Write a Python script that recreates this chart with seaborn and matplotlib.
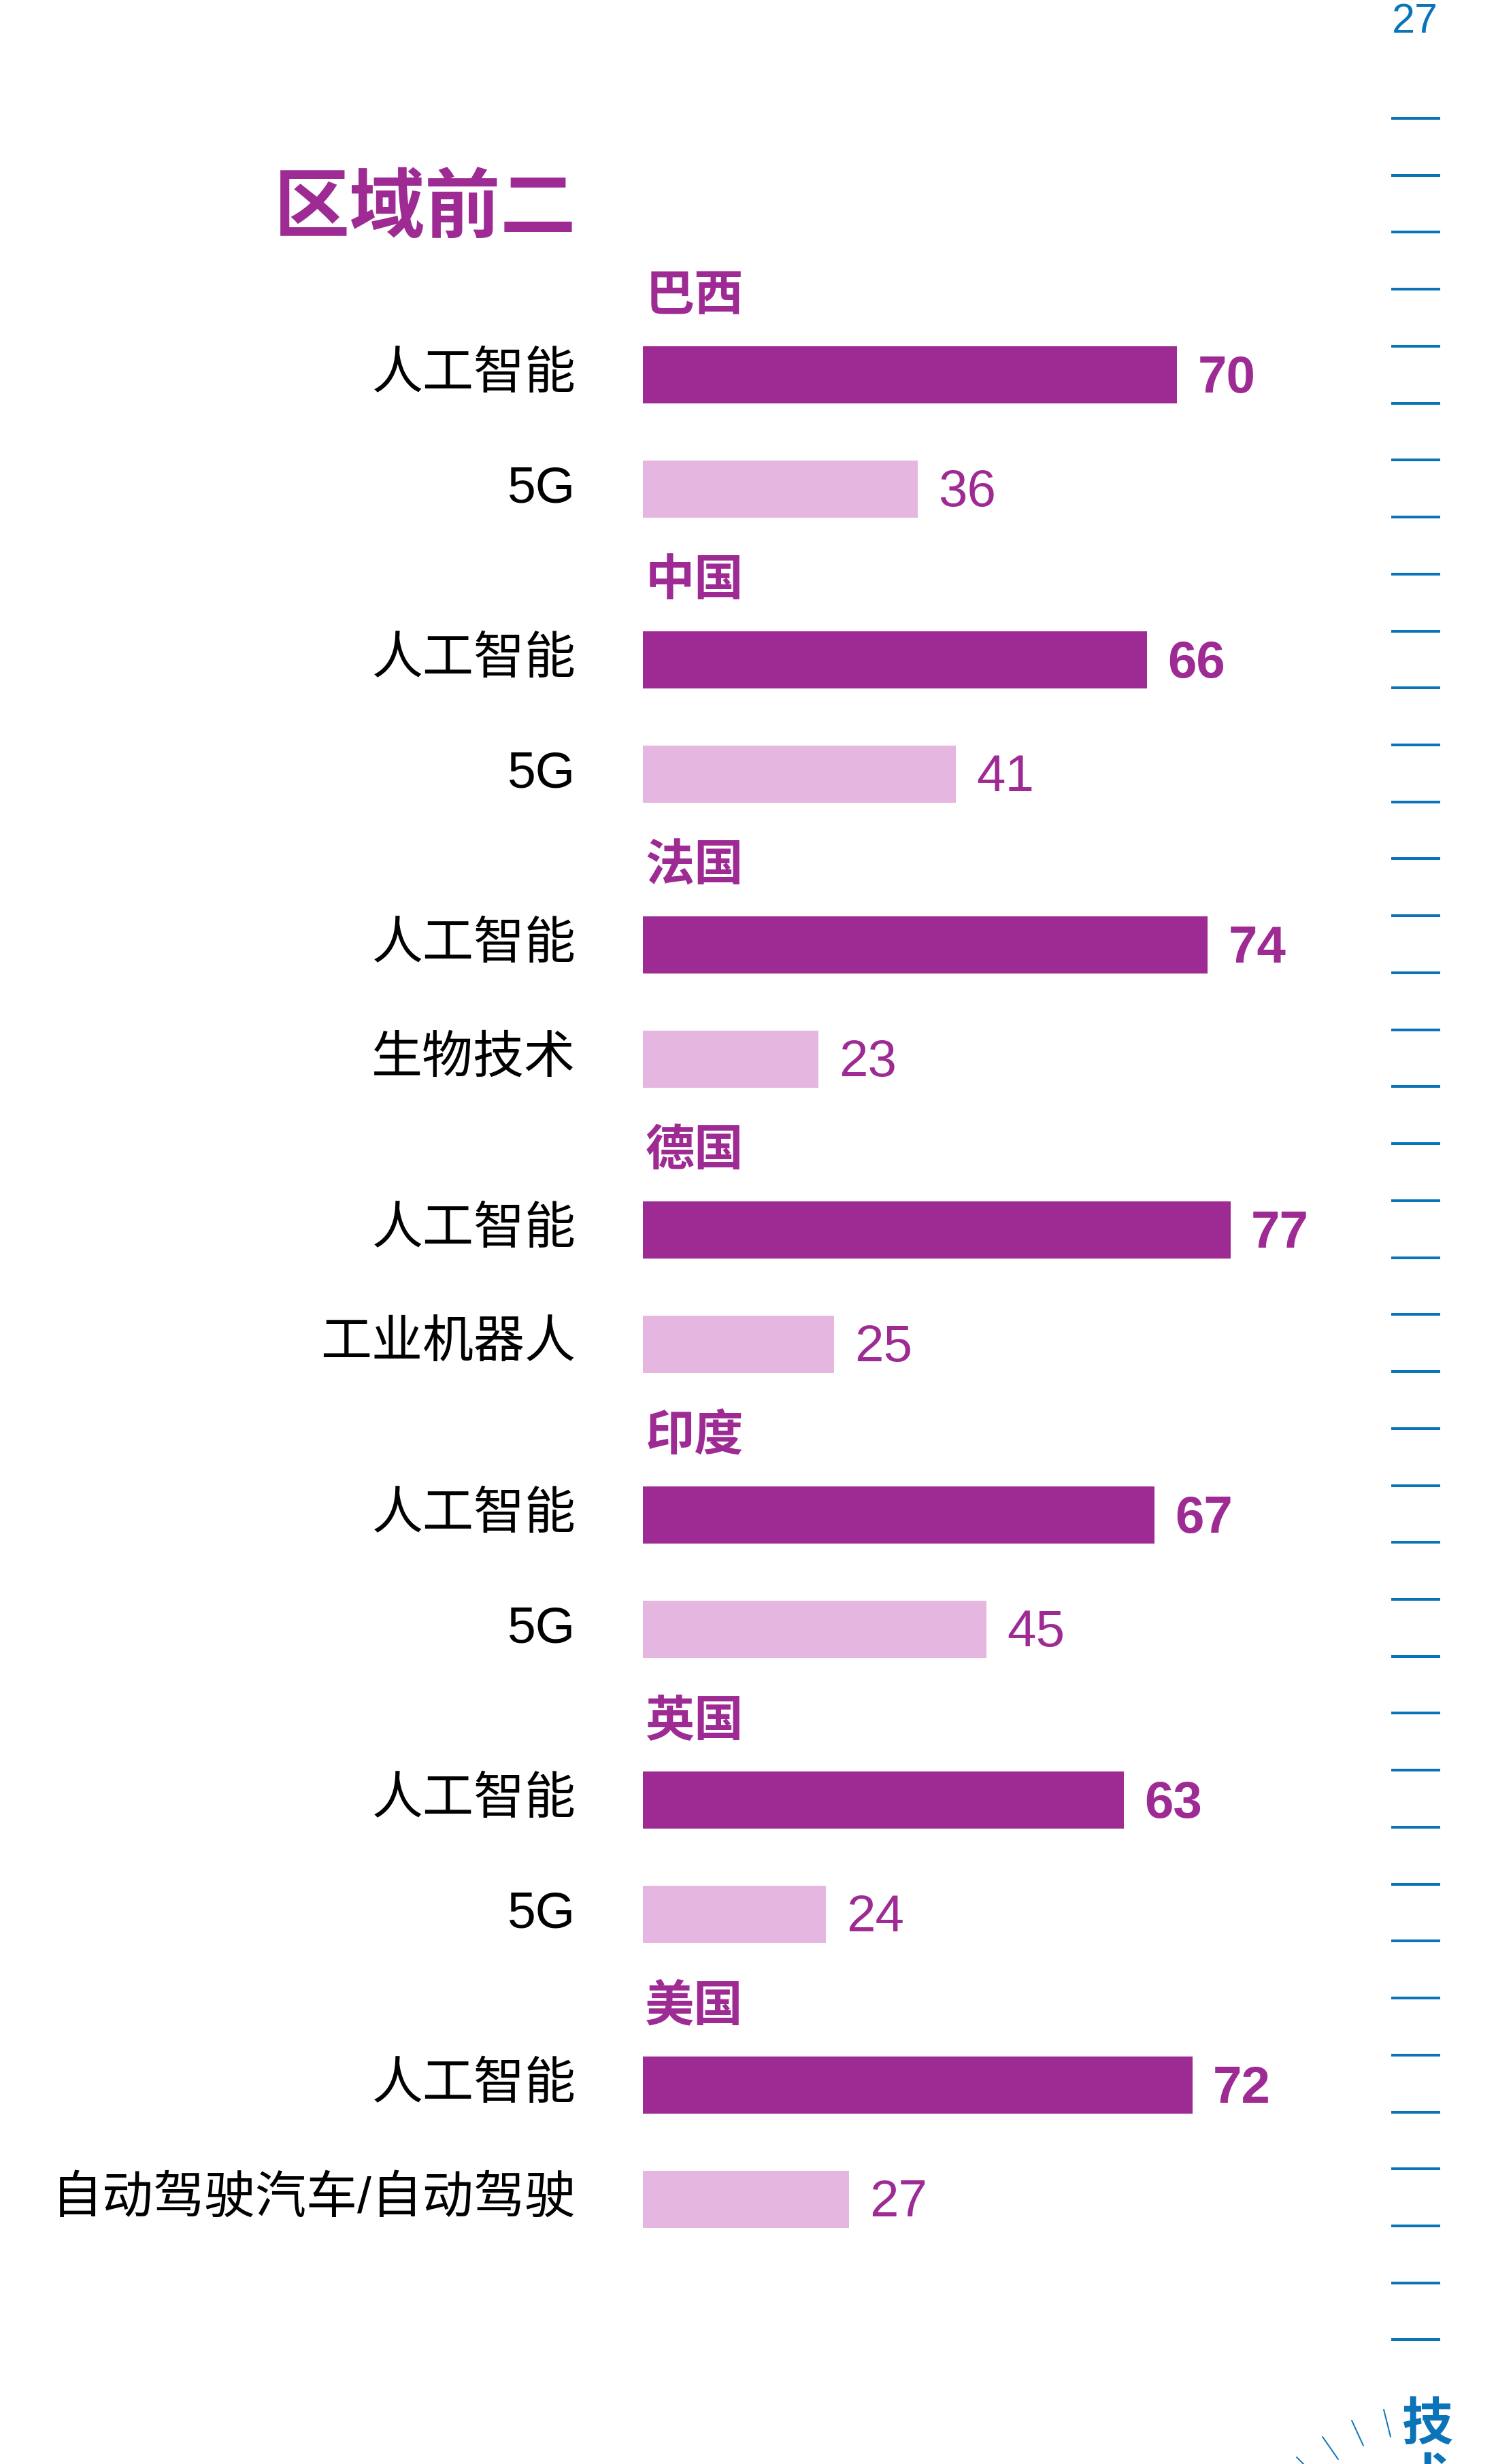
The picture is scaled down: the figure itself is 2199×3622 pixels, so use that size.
import matplotlib
matplotlib.use("Agg")
import matplotlib.pyplot as plt
from matplotlib.lines import Line2D
from matplotlib.transforms import ScaledTranslation
import seaborn as sns
import pandas as pd

# ---- data ----
countries = ["巴西", "中国", "法国", "德国", "印度", "英国", "美国"]
first_tech = ["人工智能"] * 7
first_vals = [70, 66, 74, 77, 67, 63, 72]
second_tech = ["5G", "5G", "生物技术", "工业机器人", "5G", "5G", "自动驾驶汽车/自动驾驶"]
second_vals = [36, 41, 23, 25, 45, 24, 27]
title = "区域前二"
page_number = "27"

DARK = "#9E2A93"
LIGHT = "#E5B6E0"
BLUE = "#0B74B8"

sns.set_theme(style="white")
plt.rcParams["font.family"] = ["Liberation Sans", "Noto Sans CJK SC", "DejaVu Sans"]

rows = []
for i, c in enumerate(countries):
    rows.append(dict(country=c, tech=first_tech[i], value=first_vals[i], rank="first", pos=5 * i))
    rows.append(dict(country=c, tech=second_tech[i], value=second_vals[i], rank="second", pos=5 * i + 2))
df = pd.DataFrame(rows)

W, H = 2199, 3623
fig = plt.figure(figsize=(W / 100, H / 100), dpi=100)

# axes geometry (pixels)
x0_px, px_per_unit = 945, 11.22
y_first_px, px_per_y = 552, 83.8
ylim_top, ylim_bot = -3, 35
top_px = y_first_px + px_per_y * ylim_top
bot_px = y_first_px + px_per_y * ylim_bot
ax = fig.add_axes([x0_px / W, 1 - bot_px / H, 100 * px_per_unit / W, (bot_px - top_px) / H])

sns.barplot(data=df, x="value", y="pos", hue="rank", orient="h", native_scale=True,
            palette={"first": DARK, "second": LIGHT}, width=0.5, dodge=False,
            legend=False, ax=ax, saturation=1, linewidth=0)

ax.set_xlim(0, 100)
ax.set_ylim(ylim_bot, ylim_top)
for s in ax.spines.values():
    s.set_visible(False)
ax.set_xticks([])
ax.set_xlabel("")
ax.set_ylabel("")
ax.set_yticks(df["pos"].tolist())
ax.set_yticklabels(df["tech"].tolist(), fontsize=54, color="black")
ax.tick_params(axis="y", length=0, pad=71)
ax.grid(False)
shift = ScaledTranslation(0, 8 / 100, fig.dpi_scale_trans)
for lab in ax.get_yticklabels():
    lab.set_transform(lab.get_transform() + shift)

# value labels
for _, r in df.iterrows():
    bold = r["rank"] == "first"
    ax.text(r["value"] + 2.7, r["pos"] + 0.06, str(r["value"]), va="center", ha="left",
            fontsize=55, color=DARK, fontweight="bold" if bold else "normal")

# country labels
for i, c in enumerate(countries):
    ax.text(0.3, 5 * i - 1.37, c, va="center", ha="left", fontsize=52,
            color=DARK, fontweight="bold")

# title
fig.text(847 / W, 1 - 311 / H, title, ha="right", va="center", fontsize=80,
         fontweight="bold", color=DARK)

# page decorations: number, ruler, side text
fig.text(2080 / W, 1 - 33 / H, page_number, ha="center", va="center", fontsize=44, color=BLUE)
for i in range(40):
    y = 1 - (175 + 83.73 * i) / H
    fig.add_artist(Line2D([2045 / W, 2117 / W], [y, y], color=BLUE, lw=2.9,
                          transform=fig.transFigure, solid_capstyle="butt"))
fig.text(2098 / W, 1 - 3566 / H, "技", ha="center", va="center", fontsize=54,
         fontweight="bold", color=BLUE)
fig.text(2098 / W, 1 - 3648 / H, "术", ha="center", va="center", fontsize=54,
         fontweight="bold", color=BLUE)
rays = [((2034, 3543), (2044, 3583)), ((1987, 3559), (2004, 3596)),
        ((1944, 3583), (1967, 3616)), ((1906, 3613), (1916, 3623))]
for (xa, ya), (xb, yb) in rays:
    fig.add_artist(Line2D([xa / W, xb / W], [1 - ya / H, 1 - yb / H], color=BLUE, lw=1.4,
                          transform=fig.transFigure))

fig.savefig("out.png", dpi=100, facecolor="white")
